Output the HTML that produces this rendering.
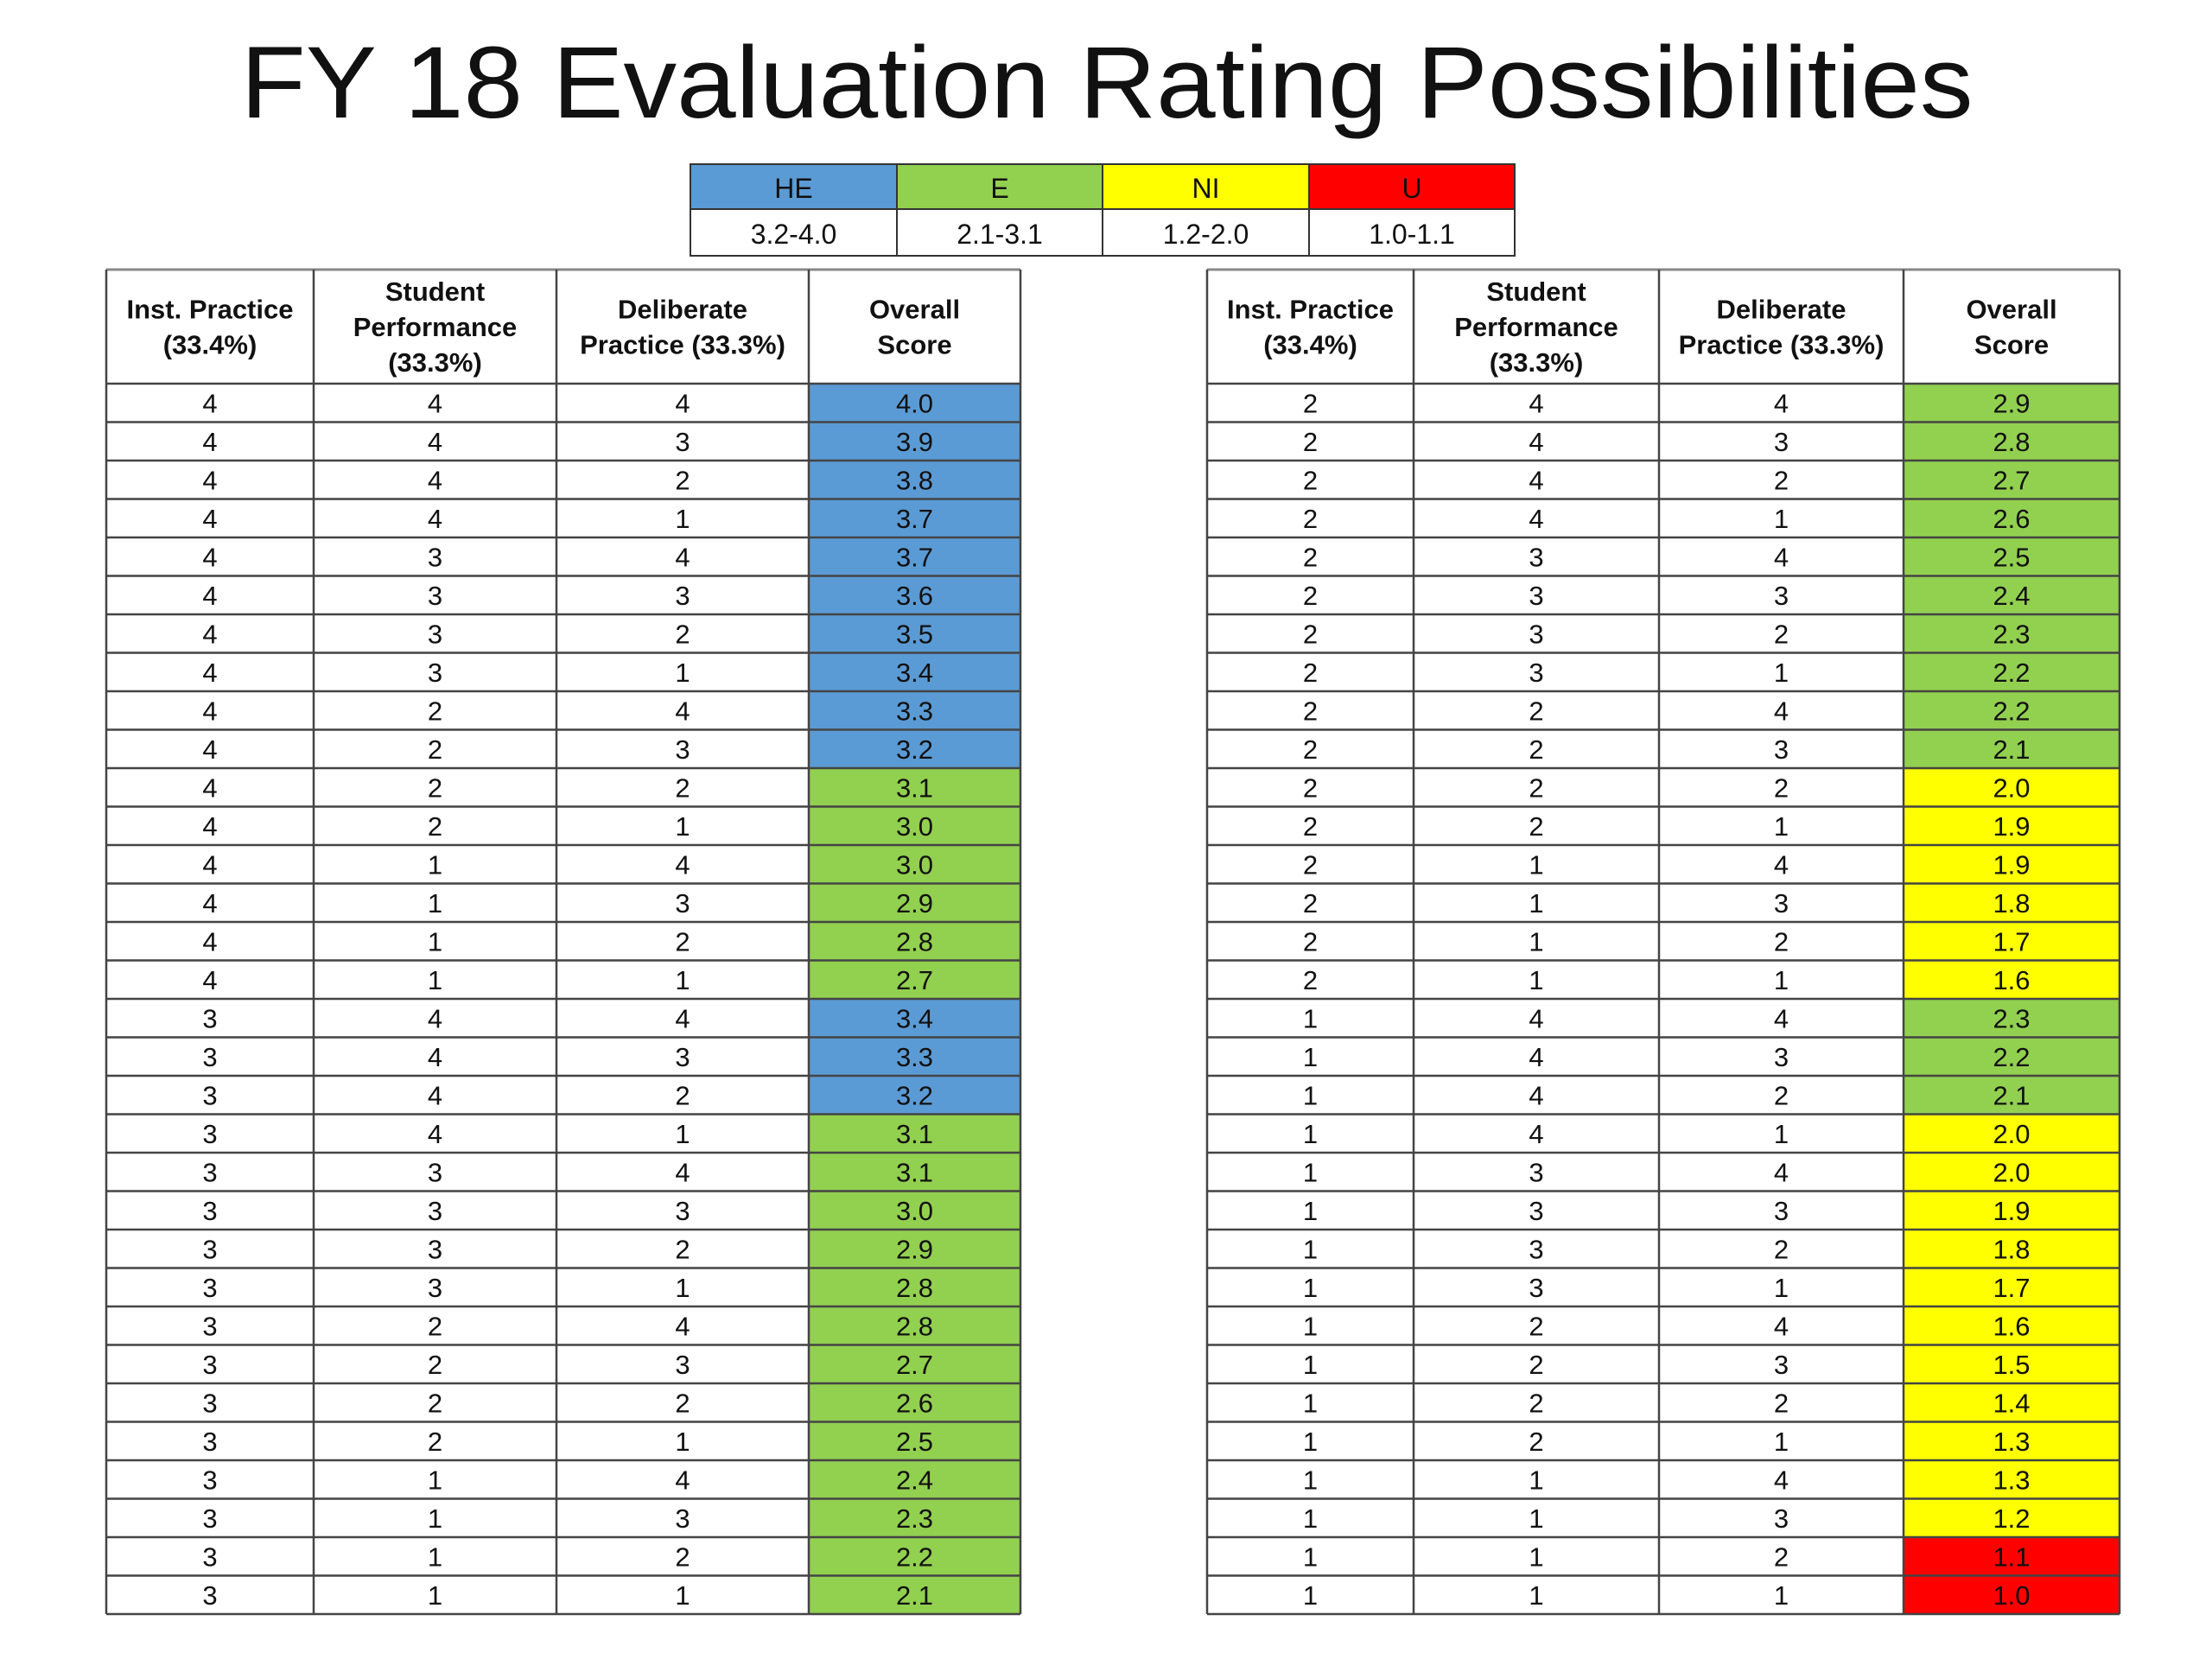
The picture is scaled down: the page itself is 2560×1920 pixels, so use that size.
<!DOCTYPE html>
<html><head><meta charset="utf-8"><style>
html,body{margin:0;padding:0;background:#fff;}
svg{display:block;font-family:"Liberation Sans",sans-serif;}
</style></head><body>
<svg id="chart" width="2560" height="1920" viewBox="0 0 2560 1920" xmlns="http://www.w3.org/2000/svg">
<text x="1281" y="136" text-anchor="middle" font-size="118" textLength="2005" lengthAdjust="spacingAndGlyphs" fill="#111">FY 18 Evaluation Rating Possibilities</text>
<g id="legend"></g>
<g id="tables"></g>
</svg>
<script>
const legendLabels = ["HE","E","NI","U"];
const legendRanges = ["3.2-4.0","2.1-3.1","1.2-2.0","1.0-1.1"];
const headers = [["Inst. Practice","(33.4%)"],["Student","Performance","(33.3%)"],["Deliberate","Practice (33.3%)"],["Overall","Score"]];
const leftIP = [4,4,4,4,4,4,4,4,4,4,4,4,4,4,4,4,3,3,3,3,3,3,3,3,3,3,3,3,3,3,3,3];
const leftSP = [4,4,4,4,3,3,3,3,2,2,2,2,1,1,1,1,4,4,4,4,3,3,3,3,2,2,2,2,1,1,1,1];
const leftDP = [4,3,2,1,4,3,2,1,4,3,2,1,4,3,2,1,4,3,2,1,4,3,2,1,4,3,2,1,4,3,2,1];
const leftScore = [4.0,3.9,3.8,3.7,3.7,3.6,3.5,3.4,3.3,3.2,3.1,3.0,3.0,2.9,2.8,2.7,3.4,3.3,3.2,3.1,3.1,3.0,2.9,2.8,2.8,2.7,2.6,2.5,2.4,2.3,2.2,2.1];
const rightIP = [2,2,2,2,2,2,2,2,2,2,2,2,2,2,2,2,1,1,1,1,1,1,1,1,1,1,1,1,1,1,1,1];
const rightSP = [4,4,4,4,3,3,3,3,2,2,2,2,1,1,1,1,4,4,4,4,3,3,3,3,2,2,2,2,1,1,1,1];
const rightDP = [4,3,2,1,4,3,2,1,4,3,2,1,4,3,2,1,4,3,2,1,4,3,2,1,4,3,2,1,4,3,2,1];
const rightScore = [2.9,2.8,2.7,2.6,2.5,2.4,2.3,2.2,2.2,2.1,2.0,1.9,1.9,1.8,1.7,1.6,2.3,2.2,2.1,2.0,2.0,1.9,1.8,1.7,1.6,1.5,1.4,1.3,1.3,1.2,1.1,1.0];

const NS="http://www.w3.org/2000/svg";
const COLORS=["#5B9BD5","#92D050","#FFFF00","#FF0000"];
function colorFor(s){ if(s>=3.2) return COLORS[0]; if(s>=2.1) return COLORS[1]; if(s>=1.2) return COLORS[2]; return COLORS[3]; }
function mk(tag,attrs,parent){const e=document.createElementNS(NS,tag);for(const k in attrs)e.setAttribute(k,attrs[k]);parent.appendChild(e);return e;}

// legend
const lg=document.getElementById('legend');
const lx=[799,1038,1276,1515,1753], ly=[190,242,296];
legendLabels.forEach((lab,i)=>{
  const r=mk('rect',{x:lx[i],y:ly[0],width:lx[i+1]-lx[i],height:ly[1]-ly[0],fill:COLORS[i],stroke:"#333","stroke-width":2},lg);
  
  
  const t=mk('text',{x:(lx[i]+lx[i+1])/2,y:ly[0]+39,"text-anchor":"middle","font-size":32,fill:"#111"},lg);
  t.textContent=lab;
  
  
  const r2=mk('rect',{x:lx[i],y:ly[1],width:lx[i+1]-lx[i],height:ly[2]-ly[1],fill:"#fff",stroke:"#333","stroke-width":2},lg);
  
  
  const t2=mk('text',{x:(lx[i]+lx[i+1])/2,y:ly[1]+40,"text-anchor":"middle","font-size":32,fill:"#111"},lg);
  t2.textContent=legendRanges[i];
  
  
});

// tables
const tg=document.getElementById('tables');
const top0=312, hb=444, bottom=1868;
function drawTable(cols,ip,sp,dp,sc,name){
  const g=mk('g',{},tg);
  
  
  const n=sc.length, rh=(bottom-hb)/n;
  const yOf=i=>hb+i*rh;
  // score fills
  sc.forEach((s,i)=>{
    const r=mk('rect',{x:cols[3],y:yOf(i),width:cols[4]-cols[3],height:rh,fill:colorFor(s)},g);
    
    
  });
  // grid lines
  for(let i=0;i<=n;i++) mk('line',{x1:cols[0],x2:cols[4],y1:yOf(i),y2:yOf(i),stroke:"#444","stroke-width":2.5},g);
  mk('line',{x1:cols[0],x2:cols[4],y1:top0,y2:top0,stroke:"#888","stroke-width":3},g);
  cols.forEach(c=>mk('line',{x1:c,x2:c,y1:top0,y2:bottom,stroke:"#444","stroke-width":2.5},g));
  // headers
  headers.forEach((h,j)=>{
    const cx=(cols[j]+cols[j+1])/2, mid=(top0+hb)/2, lh=41;
    h.forEach((line,k)=>{
      const t=mk('text',{x:cx,y:mid+(k-(h.length-1)/2)*lh+11,"text-anchor":"middle","font-size":31,"font-weight":"bold",fill:"#111"},g);
      t.textContent=line;
      
      
    });
  });
  // values
  const colsData=[ip,sp,dp,sc.map(v=>v.toFixed(1))];
  colsData.forEach((arr,j)=>{
    const cx=(cols[j]+cols[j+1])/2;
    arr.forEach((v,i)=>{
      const t=mk('text',{x:cx,y:yOf(i)+rh/2+11,"text-anchor":"middle","font-size":31,fill:"#111"},g);
      t.textContent=v;
      
      
    });
  });
}
drawTable([123,363,644,936,1181],leftIP,leftSP,leftDP,leftScore,'left-table');
drawTable([1397,1636,1920,2203,2453],rightIP,rightSP,rightDP,rightScore,'right-table');
</script>
</body></html>
